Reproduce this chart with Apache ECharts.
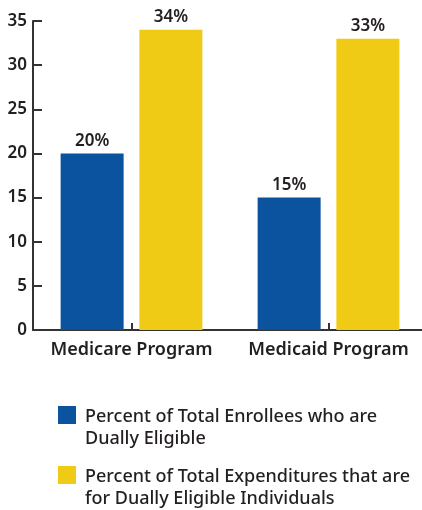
<!DOCTYPE html>
<html>
<head>
<meta charset="utf-8">
<script src="https://cdn.jsdelivr.net/npm/echarts@6/dist/echarts.min.js"></script>
<style>
  html, body { margin: 0; padding: 0; background: #fff; }
  #chart { width: 422px; height: 510px; }
</style>
</head>
<body>
<div id="chart"></div>
<script>
// Program categories on the x axis
const programs = ['Medicare Program', 'Medicaid Program'];

// Share of enrollees who are dually eligible (%)
const enrolleeShare = [20, 15];

// Share of spending on dually eligible individuals (%)
const expenditureShare = [34, 33];

// Value axis ticks
const yTicks = [0, 5, 10, 15, 20, 25, 30, 35];

const seriesNames = [
  'Percent of Total Enrollees who are\nDually Eligible',
  'Percent of Total Expenditures that are\nfor Dually Eligible Individuals'
];

const BLUE = '#0B529F';
const YELLOW = '#F0CB16';
const INK = '#231F20';
const FONT = 'Noto Sans';

// Square swatch pinned to the top of a taller legend box so it lines up with the first text line
const swatch = 'path://M0,0H18V18H0Z M0,44H0.01';

const chart = echarts.init(document.getElementById('chart'));

const valueLabel = {
  show: true,
  position: 'top',
  distance: 4,
  formatter: p => p.value + '%',
  color: INK,
  fontFamily: FONT,
  fontWeight: 600,
  fontSize: 17
};

const legendText = {
  color: INK, fontFamily: FONT, fontWeight: 500, fontSize: 18, lineHeight: 22,
  padding: [0, 0, 0, 4]
};

chart.setOption({
  animation: false,
  grid: { left: 33, top: 21, width: 394, height: 309, containLabel: false, outerBoundsMode: 'none' },
  xAxis: {
    type: 'category',
    data: programs,
    axisLine: { lineStyle: { color: '#333', width: 2 } },
    axisTick: { show: true, inside: true, alignWithLabel: true, interval: 0, length: 7, lineStyle: { color: '#333', width: 2 } },
    axisLabel: { interval: 0, hideOverlap: false, color: INK, fontFamily: FONT, fontWeight: 600, fontSize: 18, margin: 11 }
  },
  yAxis: {
    type: 'value',
    min: yTicks[0],
    max: yTicks[yTicks.length - 1],
    interval: yTicks[1] - yTicks[0],
    axisLine: { show: true, lineStyle: { color: '#333', width: 2 } },
    axisTick: { show: true, inside: true, length: 9, lineStyle: { color: '#333', width: 2 } },
    splitLine: { show: false },
    axisLabel: { color: INK, fontFamily: FONT, fontWeight: 600, fontSize: 17, margin: 6 }
  },
  legend: [
    {
      data: [seriesNames[0]],
      left: 58, top: 406, padding: 0,
      icon: swatch, itemWidth: 18, itemHeight: 44, itemGap: 0,
      selectedMode: false,
      textStyle: legendText
    },
    {
      data: [seriesNames[1]],
      left: 58, top: 466, padding: 0,
      icon: swatch, itemWidth: 18, itemHeight: 44, itemGap: 0,
      selectedMode: false,
      textStyle: legendText
    }
  ],
  series: [
    {
      name: seriesNames[0],
      type: 'bar',
      data: enrolleeShare,
      barWidth: 63,
      barGap: '25%',
      itemStyle: { color: BLUE },
      label: valueLabel
    },
    {
      name: seriesNames[1],
      type: 'bar',
      data: expenditureShare,
      barWidth: 63,
      itemStyle: { color: YELLOW },
      label: valueLabel
    }
  ]
});
</script>
</body>
</html>
